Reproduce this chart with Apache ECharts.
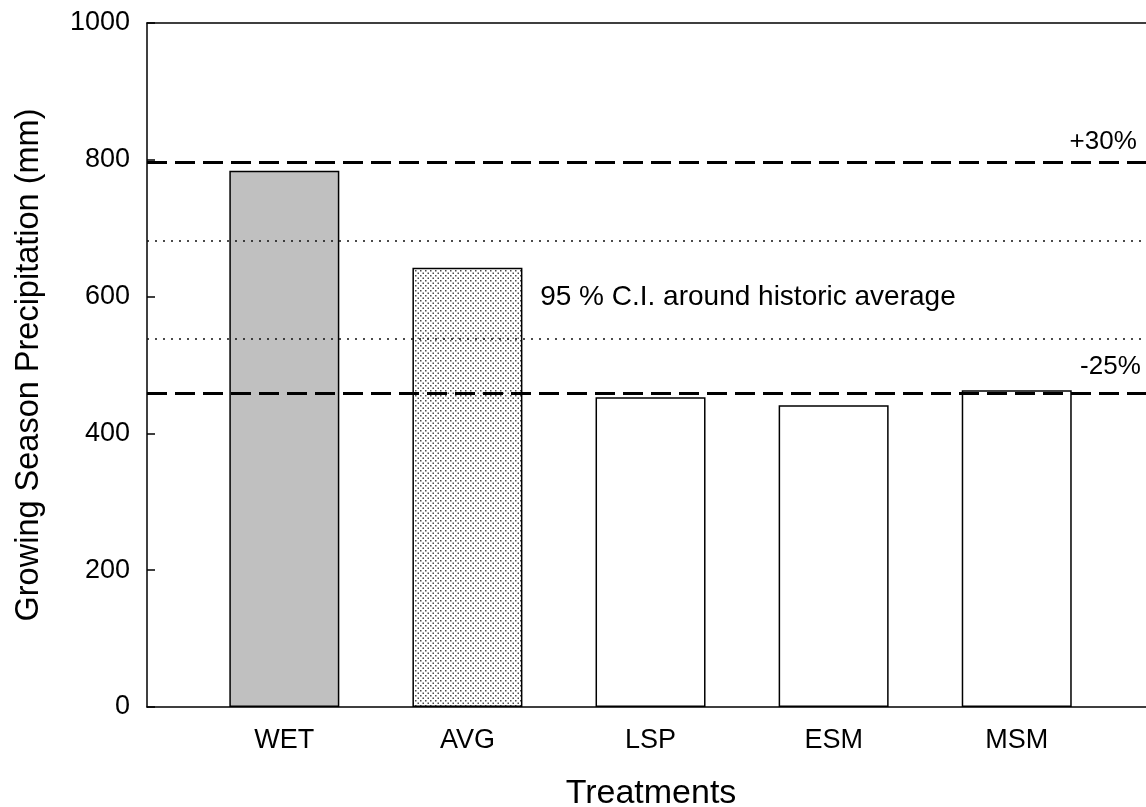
<!DOCTYPE html>
<html>
<head>
<meta charset="utf-8">
<script src="https://cdn.jsdelivr.net/npm/echarts@6/dist/echarts.min.js"></script>
<style>html,body{margin:0;padding:0;background:#fff}#c{width:1146px;height:807px}</style>
</head>
<body>
<div id="c"></div>
<script>
const categories = ['WET', 'AVG', 'LSP', 'ESM', 'MSM'];
const precipitation = [784, 642, 453, 441, 463];
const yTicks = [0, 200, 400, 600, 800, 1000];
const thresholdValues = [797, 459];
const thresholdLabels = ['+30%', '-25%'];
const ciBounds = [539, 681];
const ciLabel = '95 % C.I. around historic average';

const FONT = "'Liberation Sans', Arial, sans-serif";

function makeDots() {
  const c = document.createElement('canvas');
  c.width = 5; c.height = 5;
  const g = c.getContext('2d');
  g.fillStyle = '#ffffff'; g.fillRect(0, 0, 5, 5);
  g.fillStyle = '#4a4a4a';
  g.fillRect(0, 0, 1.5, 1.5);
  g.fillRect(2.5, 2.5, 1.5, 1.5);
  return c;
}
const dotPattern = { image: makeDots(), repeat: 'repeat' };
const fills = ['#c0c0c0', dotPattern, '#ffffff', '#ffffff', '#ffffff'];

const chart = echarts.init(document.getElementById('c'), null, { renderer: 'canvas' });

const barData = precipitation.map((v, i) => ({
  value: [i + 1, v],
  itemStyle: { color: fills[i], borderColor: '#000', borderWidth: 1.5 }
}));

const markLines = [];
thresholdValues.forEach(v => markLines.push({
  yAxis: v,
  lineStyle: { color: '#000', width: 3, type: [20, 8] }
}));
ciBounds.forEach(v => markLines.push({
  yAxis: v,
  lineStyle: { color: '#111', width: 1.6, type: [2, 6] }
}));

const X_MIN = 0.25, X_MAX = 5.706;

const option = {
  animation: false,
  backgroundColor: '#fff',
  grid: {
    left: 147, right: 0, top: 23, bottom: 100,
    outerBoundsMode: 'none', containLabel: false,
    show: false
  },
  xAxis: [{
    type: 'value', min: X_MIN, max: X_MAX,
    name: 'Treatments', nameLocation: 'middle', nameGap: 70,
    nameTextStyle: { fontFamily: FONT, fontSize: 34, color: '#000', padding: [0, 0, 0, 9] },
    axisLine: { show: true, lineStyle: { color: '#000', width: 1.5 } },
    axisTick: { show: false },
    splitLine: { show: false },
    axisLabel: {
      fontFamily: FONT, fontSize: 27, color: '#000', margin: 20,
      showMinLabel: false, showMaxLabel: false,
      formatter: v => (Number.isInteger(v) && categories[v - 1]) ? categories[v - 1] : ''
    }
  }, {
    type: 'value', min: X_MIN, max: X_MAX, position: 'top',
    axisLine: { show: true, lineStyle: { color: '#000', width: 1.5 } },
    axisTick: { show: false }, axisLabel: { show: false }, splitLine: { show: false }
  }],
  yAxis: {
    type: 'value', min: yTicks[0], max: yTicks[yTicks.length - 1], interval: 200,
    name: 'Growing Season Precipitation (mm)', nameLocation: 'middle', nameGap: 101,
    nameTextStyle: { fontFamily: FONT, fontSize: 32.5, color: '#000' },
    axisLine: { show: true, lineStyle: { color: '#000', width: 1.5 } },
    axisTick: { show: true, inside: true, length: 8, lineStyle: { color: '#000', width: 1.5 } },
    splitLine: { show: false },
    axisLabel: { fontFamily: FONT, fontSize: 27, color: '#000', margin: 17, formatter: v => String(v) }
  },
  series: [{
    type: 'bar',
    barWidth: 110,
    data: barData,
    markLine: {
      silent: true, symbol: 'none',
      label: { show: false },
      data: markLines
    },
    markPoint: {
      silent: true, symbol: 'circle', symbolSize: 0,
      data: [
        { coord: [5.683, 826.5], label: { formatter: thresholdLabels[0], position: 'left', distance: 5, fontSize: 26 } },
        { coord: [5.705, 497.5], label: { formatter: thresholdLabels[1], position: 'left', distance: 5, fontSize: 26 } },
        { coord: [2.37, 599], label: { formatter: ciLabel, position: 'right', distance: 5 } }
      ],
      label: { show: true, fontFamily: FONT, fontSize: 28, color: '#000' }
    }
  }]
};
chart.setOption(option);
</script>
</body>
</html>
